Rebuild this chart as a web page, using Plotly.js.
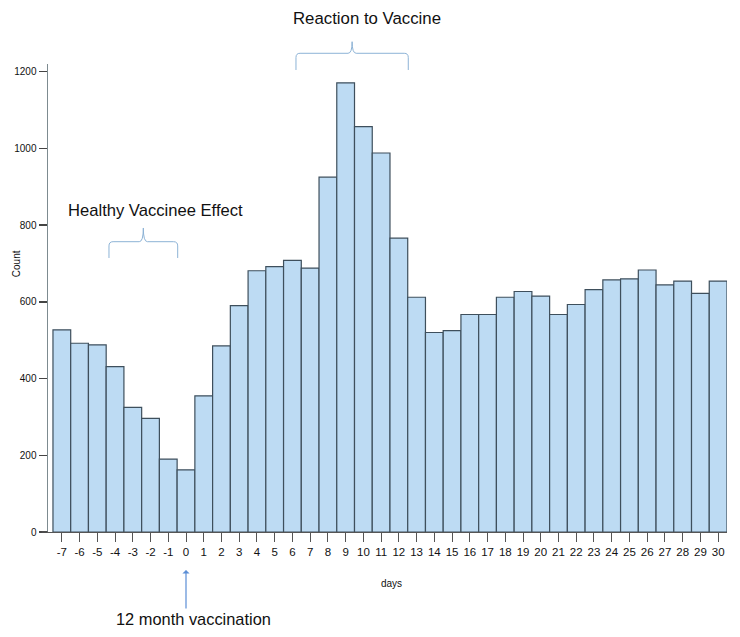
<!DOCTYPE html>
<html>
<head>
<meta charset="utf-8">
<script src="https://cdn.plot.ly/plotly-3.0.1.min.js"></script>
<style>html,body{margin:0;padding:0;background:#fff;}#chart{width:740px;height:637px;}</style>
</head>
<body>
<div id="chart"></div>
<script>
// ---- data ----
var days = [-7,-6,-5,-4,-3,-2,-1,0,1,2,3,4,5,6,7,8,9,10,11,12,13,14,15,16,17,18,19,20,21,22,23,24,25,26,27,28,29,30];
var counts = [527,492,488,431,325,296,190,162,355,485,590,681,692,708,688,925,1171,1057,988,766,612,520,525,567,567,612,627,615,567,593,632,657,660,683,644,654,622,654];
var dayLabels = ["-7","-6","-5","-4","-3","-2","-1","0","1","2","3","4","5","6","7","8","9","10","11","12","13","14","15","16","17","18","19","20","21","22","23","24","25","26","27","28","29","30"];
var yTicks = [0,200,400,600,800,1000,1200];
var xTitle = "days";
var yTitle = "Count";
var noteReaction = "Reaction to Vaccine";
var noteHealthy = "Healthy Vaccinee Effect";
var noteVaccination = "12 month vaccination";
var vaccinationDay = 0;

var FONT = "Liberation Sans, Arial, Helvetica, sans-serif";
var braceColor = "#8db3d6";

function brace(x0, x1, yb, yh, yn) {
  var dx = 0.006, dy = 0.009;
  var xc = (x0 + x1) / 2;
  return "M" + x0 + "," + yb +
    " L" + x0 + "," + (yh - dy) +
    " Q" + x0 + "," + yh + " " + (x0 + dx) + "," + yh +
    " L" + (xc - dx) + "," + yh +
    " Q" + xc + "," + yh + " " + xc + "," + yn +
    " Q" + xc + "," + yh + " " + (xc + dx) + "," + yh +
    " L" + (x1 - dx) + "," + yh +
    " Q" + x1 + "," + yh + " " + x1 + "," + (yh - dy) +
    " L" + x1 + "," + yb;
}

var trace = {
  type: "bar",
  x: days,
  y: counts,
  marker: { color: "#bddbf3", line: { color: "#3e4f5c", width: 1.2 } },
  hoverinfo: "x+y"
};

var layout = {
  width: 740,
  height: 637,
  margin: { l: 48, r: 13, t: 64, b: 105 },
  paper_bgcolor: "#ffffff",
  plot_bgcolor: "#ffffff",
  bargap: 0,
  showlegend: false,
  font: { family: FONT, color: "#111" },
  xaxis: {
    range: [-7.78, 30.5],
    tickmode: "array",
    tickvals: days,
    ticktext: dayLabels,
    ticks: "outside",
    ticklen: 9,
    tickwidth: 1,
    tickcolor: "#555",
    tickfont: { size: 11.5, family: FONT, color: "#111" },
    showline: true,
    linecolor: "#555",
    linewidth: 1.2,
    showgrid: false,
    zeroline: false
  },
  yaxis: {
    range: [0, 1220],
    tickmode: "array",
    tickvals: yTicks,
    ticks: "outside",
    ticklen: 8,
    tickwidth: 1.5,
    tickcolor: "#444",
    tickfont: { size: 10, family: FONT, color: "#111" },
    showline: true,
    linecolor: "#7d8b90",
    linewidth: 1.5,
    showgrid: false,
    zeroline: false
  },
  shapes: [
    { type: "path", xref: "paper", yref: "paper", path: brace(0.3652, 0.5306, 0.9872, 1.0229, 1.0476), line: { color: braceColor, width: 1 } },
    { type: "path", xref: "paper", yref: "paper", path: brace(0.0898, 0.1910, 0.5855, 0.6203, 0.6496), line: { color: braceColor, width: 1 } },
    { type: "line", xref: "paper", yref: "paper", x0: -0.0093, x1: 0, y0: 0, y1: 0, line: { color: "#555", width: 1.2 } }
  ],
  annotations: [
    { text: noteReaction, xref: "paper", yref: "paper", x: 0.4698, y: 1.0962, showarrow: false, xanchor: "center", yanchor: "middle", font: { size: 16.8, family: FONT, color: "#111" } },
    { text: noteHealthy, xref: "paper", yref: "paper", x: 0.158, y: 0.688, showarrow: false, xanchor: "center", yanchor: "middle", font: { size: 16.6, family: FONT, color: "#111" } },
    { text: noteVaccination, xref: "paper", yref: "paper", x: 0.215, y: -0.1859, showarrow: false, xanchor: "center", yanchor: "middle", font: { size: 16.4, family: FONT, color: "#111" } },
    { text: "", xref: "x", yref: "paper", x: vaccinationDay, y: -0.0812, showarrow: true, ax: 0, ay: 40, arrowcolor: "#5b8ed6", arrowwidth: 1.2, arrowhead: 1, arrowsize: 1 },
    { text: xTitle, xref: "paper", yref: "paper", x: 0.5059, y: -0.109, showarrow: false, xanchor: "center", yanchor: "middle", font: { size: 10, family: FONT, color: "#111" } },
    { text: yTitle, xref: "paper", yref: "paper", x: -0.0461, y: 0.5737, showarrow: false, textangle: -90, xanchor: "center", yanchor: "middle", font: { size: 10, family: FONT, color: "#111" } }
  ]
};

Plotly.newPlot("chart", [trace], layout, { displayModeBar: false, staticPlot: true });
</script>
</body>
</html>
